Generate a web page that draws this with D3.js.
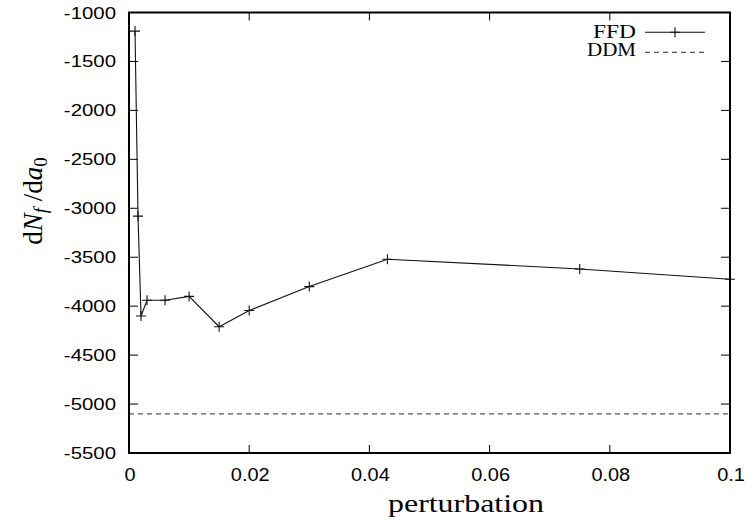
<!DOCTYPE html>
<html><head><meta charset="utf-8">
<script src="https://cdn.jsdelivr.net/npm/d3@7/dist/d3.min.js"></script>
<style>body{margin:0;background:#fff}svg{display:block}</style>
</head><body>
<svg id="c" width="747" height="522"></svg>
<script>
const ffdX = [0.001, 0.0015, 0.002, 0.003, 0.006, 0.01, 0.015, 0.02, 0.03, 0.043, 0.075, 0.1];
const ffdY = [-1190, -3080, -4100, -3940, -3940, -3900, -4210, -4045, -3800, -3520, -3620, -3725];
const ddmY = -5100;
const xTicks = [0, 0.02, 0.04, 0.06, 0.08, 0.1];
const yTicks = [-1000, -1500, -2000, -2500, -3000, -3500, -4000, -4500, -5000, -5500];

const svg = d3.select("#c");
const L = 129, R = 730, T = 12.5, B = 453;
const x = d3.scaleLinear().domain([0, 0.1]).range([L, R]);
const y = d3.scaleLinear().domain([-5500, -1000]).range([B, T]);
const tickFont = "Liberation Sans, Arial, sans-serif";
const serif = "Liberation Serif, Times New Roman, serif";

const g = svg.append("g");
xTicks.forEach(v => {
  g.append("line").attr("x1", x(v)).attr("x2", x(v)).attr("y1", B).attr("y2", B - 8).attr("stroke", "#000");
  g.append("line").attr("x1", x(v)).attr("x2", x(v)).attr("y1", T).attr("y2", T + 8).attr("stroke", "#000");
  g.append("g").attr("transform", `translate(${x(v) + 1},${B + 28}) scale(1.05,1)`)
    .append("text").attr("text-anchor", "middle")
    .attr("font-family", tickFont).attr("font-size", 19).text(d3.format("~g")(v));
});
yTicks.forEach(v => {
  g.append("line").attr("x1", L).attr("x2", L + 9).attr("y1", y(v)).attr("y2", y(v)).attr("stroke", "#000");
  g.append("line").attr("x1", R).attr("x2", R - 9).attr("y1", y(v)).attr("y2", y(v)).attr("stroke", "#000");
  g.append("g").attr("transform", `translate(${L - 13},${y(v) + 6}) scale(1.2,1)`)
    .append("text").attr("text-anchor", "end")
    .attr("font-family", tickFont).attr("font-size", 17).text(v);
});

// DDM
svg.append("line").attr("x1", L).attr("x2", R).attr("y1", y(ddmY)).attr("y2", y(ddmY))
  .attr("stroke", "#555").attr("stroke-width", 1.2).attr("stroke-dasharray", "5,4");

// FFD
const pts = ffdX.map((v, i) => [v, ffdY[i]]);
svg.append("path").attr("d", d3.line().x(d => x(d[0])).y(d => y(d[1]))(pts))
  .attr("fill", "none").attr("stroke", "#111").attr("stroke-width", 1.1);
svg.append("g").selectAll("path").data(pts).join("path")
  .attr("d", d => `M${x(d[0]) - 5},${y(d[1])}H${x(d[0]) + 5}M${x(d[0])},${y(d[1]) - 5}V${y(d[1]) + 5}`)
  .attr("stroke", "#111").attr("stroke-width", 1.1);

// border
svg.append("rect").attr("x", L).attr("y", T).attr("width", R - L).attr("height", B - T)
  .attr("fill", "none").attr("stroke", "#000").attr("stroke-width", 2);

// legend
const lg = svg.append("g").attr("font-family", serif).attr("font-size", 18);
lg.append("text").attr("x", 636).attr("y", 37.5).attr("text-anchor", "end")
  .attr("textLength", 43).attr("lengthAdjust", "spacingAndGlyphs").text("FFD");
lg.append("line").attr("x1", 645).attr("x2", 705).attr("y1", 32.3).attr("y2", 32.3).attr("stroke", "#111").attr("stroke-width", 1.1);
lg.append("path").attr("d", "M670,32.3H680M675,27.3V37.3").attr("stroke", "#111").attr("stroke-width", 1.1);
lg.append("text").attr("x", 636).attr("y", 56).attr("text-anchor", "end")
  .attr("textLength", 49).attr("lengthAdjust", "spacingAndGlyphs").text("DDM");
lg.append("line").attr("x1", 645).attr("x2", 705).attr("y1", 52.3).attr("y2", 52.3).attr("stroke", "#555").attr("stroke-width", 1.2).attr("stroke-dasharray", "5,4");

// axis labels
svg.append("text").attr("x", 466).attr("y", 512).attr("text-anchor", "middle")
  .attr("font-family", serif).attr("font-size", 26)
  .attr("textLength", 156).attr("lengthAdjust", "spacingAndGlyphs").text("perturbation");
const yl = svg.append("text").attr("transform", "translate(41.5,201) rotate(-90)").attr("text-anchor", "middle")
  .attr("font-family", serif).attr("font-size", 27);
yl.append("tspan").text("d");
yl.append("tspan").attr("font-style", "italic").text("N");
yl.append("tspan").attr("font-style", "italic").attr("font-size", 19).attr("dy", 5).text("f");
yl.append("tspan").attr("dy", -5).text(" /d");
yl.append("tspan").attr("font-style", "italic").text("a");
yl.append("tspan").attr("font-size", 19).attr("dy", 5).text("0");
</script>
</body></html>
